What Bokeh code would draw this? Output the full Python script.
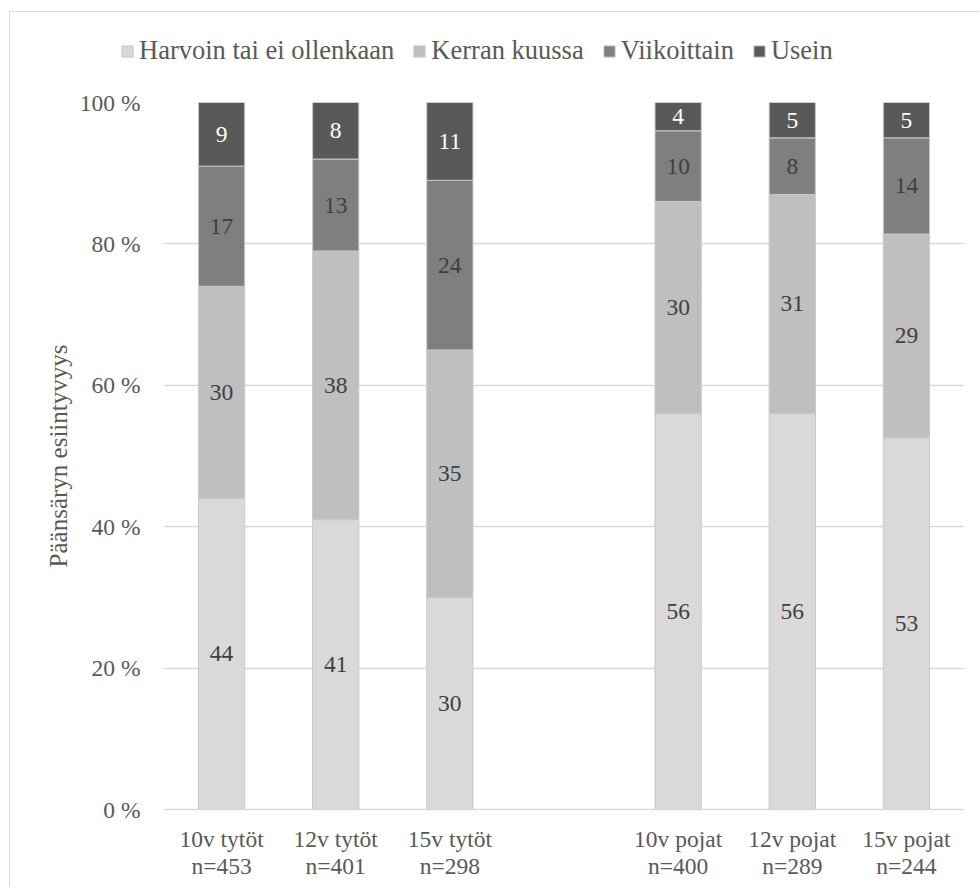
from bokeh.plotting import figure
from bokeh.models import (ColumnDataSource, FactorRange, Range1d, FixedTicker, Legend,
                          LegendItem, CategoricalAxis, CustomJSTickFormatter)
from bokeh.core.properties import value
from bokeh.embed import file_html
from bokeh.resources import INLINE

# ---------------- data ----------------
factors = ["10v tytöt", "12v tytöt", "15v tytöt", " ", "10v pojat", "12v pojat", "15v pojat"]
groups = ["10v tytöt", "12v tytöt", "15v tytöt", "10v pojat", "12v pojat", "15v pojat"]
n_labels = ["n=453", "n=401", "n=298", "", "n=400", "n=289", "n=244"]
series = ["Harvoin tai ei ollenkaan", "Kerran kuussa", "Viikoittain", "Usein"]
harvoin = [44, 41, 30, 56, 56, 52.6]
kerran = [30, 38, 35, 30, 31, 28.8]
viikoittain = [17, 13, 24, 10, 8, 13.6]
usein = [9, 8, 11, 4, 5, 5]
y_ticks = [0, 20, 40, 60, 80, 100]
y_title = "Päänsäryn esiintyvyys"

colors = ["#d9d9d9", "#bfbfbf", "#7f7f7f", "#595959"]
label_colors = ["#404040", "#404040", "#404040", "#ffffff"]
FONT = "Liberation Serif"
FS = "23.5px"
TXT = "#595959"
EDGE = "#c8c8c8"
BORDER = "1px solid #d9d9d9"

keys = ["h", "k", "v", "u"]
src = ColumnDataSource(dict(x=groups, h=harvoin, k=kerran, v=viikoittain, u=usein))

# ---------------- main chart ----------------
p = figure(x_range=FactorRange(*factors), y_range=Range1d(0, 100),
           frame_width=799, frame_height=707,
           min_border_left=154, min_border_right=17, min_border_top=21, min_border_bottom=78,
           output_backend="svg", toolbar_location=None, tools="")
p.styles = {"margin-left": "9px", "border-left": BORDER}

renderers = p.vbar_stack(keys, x="x", width=0.405, source=src, color=colors,
                         line_color=EDGE, line_width=1)

# data labels
vals = [harvoin, kerran, viikoittain, usein]
bottoms = [0.0] * len(groups)
for i, vlist in enumerate(vals):
    centers = [b + v / 2 for b, v in zip(bottoms, vlist)]
    texts = [f"{v:.0f}" for v in vlist]
    ls = ColumnDataSource(dict(x=groups, y=centers, t=texts))
    p.text(x="x", y="y", text="t", source=ls, text_align="center", text_baseline="middle",
           text_font=value(FONT), text_font_size=FS, text_color=label_colors[i])
    bottoms = [b + v for b, v in zip(bottoms, vlist)]

# axes
p.yaxis.ticker = FixedTicker(ticks=y_ticks)
p.yaxis.major_label_overrides = {t: f"{t} %" for t in y_ticks}
p.yaxis.axis_line_color = None
p.yaxis.major_tick_line_color = None
p.yaxis.minor_tick_line_color = None
p.yaxis.major_label_standoff = 18
p.yaxis.major_label_text_font = FONT
p.yaxis.major_label_text_font_size = FS
p.yaxis.major_label_text_color = TXT
p.yaxis.axis_label = y_title
p.yaxis.axis_label_text_font = FONT
p.yaxis.axis_label_text_font_size = "25px"
p.yaxis.axis_label_text_font_style = "normal"
p.yaxis.axis_label_text_color = TXT
p.yaxis.axis_label_standoff = 5

xa = p.xaxis[0]
xa.axis_line_color = "#d9d9d9"
xa.axis_line_width = 1.5
xa.major_tick_line_color = None
xa.minor_tick_line_color = None
xa.major_label_standoff = 10
xa.major_label_text_font = FONT
xa.major_label_text_font_size = FS
xa.major_label_text_color = TXT

nfmt = CustomJSTickFormatter(args=dict(f=factors, n=n_labels),
                             code="const i = f.indexOf(tick); return i >= 0 ? n[i] : '';")
xa2 = CategoricalAxis(formatter=nfmt,
                      axis_line_color=None, major_tick_line_color=None,
                      minor_tick_line_color=None, major_label_standoff=-8,
                      major_label_text_font=FONT, major_label_text_font_size=FS,
                      major_label_text_color=TXT)
p.add_layout(xa2, "below")

p.xgrid.grid_line_color = None
p.ygrid.grid_line_color = "#d9d9d9"
p.ygrid.grid_line_width = 1.5
p.outline_line_color = None
p.x_range.range_padding = 0
p.x_range.factor_padding = 0

# ---------------- legend strip (separate root, no frame alignment) ----------------
lg = figure(width=970, height=70, min_border=0, x_range=Range1d(0, 1), y_range=Range1d(0, 1),
            x_axis_type=None, y_axis_type=None, output_backend="svg",
            toolbar_location=None, tools="")
lg.styles = {"margin-left": "9px", "margin-top": "11px",
             "border-left": BORDER, "border-top": BORDER}
lg.grid.visible = False
lg.outline_line_color = None
offview = ColumnDataSource(dict(x=[-10], top=[0]))
leg_rs = [lg.vbar(x="x", top="top", width=0.1, source=offview, fill_color=c,
                  line_color=EDGE, line_width=1) for c in colors]
items = [LegendItem(label=s, renderers=[r]) for s, r in zip(series, leg_rs)]
legend = Legend(items=items, orientation="horizontal", location=(110, 16),
                glyph_width=14, glyph_height=14, label_standoff=5, spacing=18,
                padding=0, margin=0, border_line_color=None, background_fill_alpha=0,
                label_text_font=FONT, label_text_font_size="26.5px", label_text_color=TXT)
lg.add_layout(legend, "center")

open("out.html", "w").write(file_html([lg, p], INLINE))
